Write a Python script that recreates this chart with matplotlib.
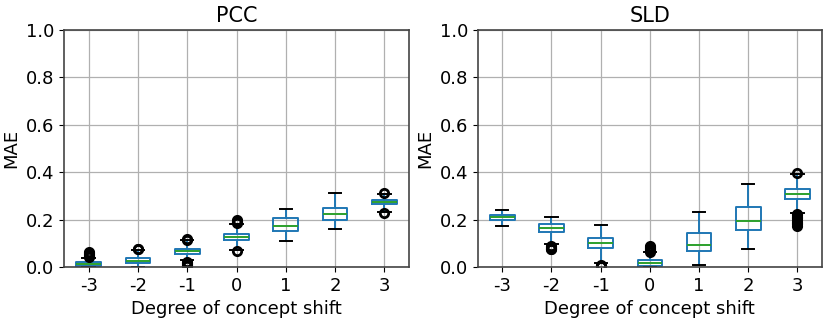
import matplotlib
matplotlib.use("Agg")
import matplotlib.pyplot as plt

shifts = ["-3", "-2", "-1", "0", "1", "2", "3"]

# box statistics: whislo, q1, median, q3, whishi
pcc_stats = [
    [0.000, 0.004, 0.011, 0.020, 0.038],
    [0.000, 0.015, 0.026, 0.037, 0.072],
    [0.028, 0.056, 0.068, 0.077, 0.112],
    [0.072, 0.112, 0.126, 0.141, 0.183],
    [0.111, 0.153, 0.173, 0.205, 0.246],
    [0.159, 0.200, 0.225, 0.249, 0.312],
    [0.231, 0.264, 0.274, 0.282, 0.307],
]
pcc_fliers = [
    [0.042, 0.046, 0.050, 0.055, 0.060, 0.064],
    [0.076, 0.078],
    [0.004, 0.008, 0.013, 0.018, 0.023, 0.116, 0.120],
    [0.066, 0.186, 0.190, 0.194, 0.198],
    [],
    [],
    [0.228, 0.312],
]

sld_stats = [
    [0.171, 0.199, 0.211, 0.221, 0.239],
    [0.099, 0.148, 0.166, 0.183, 0.213],
    [0.017, 0.079, 0.100, 0.122, 0.177],
    [0.000, 0.006, 0.018, 0.031, 0.062],
    [0.008, 0.066, 0.094, 0.143, 0.232],
    [0.076, 0.156, 0.194, 0.252, 0.350],
    [0.226, 0.285, 0.308, 0.331, 0.394],
]
sld_fliers = [
    [],
    [0.074, 0.078, 0.082, 0.086, 0.090],
    [0.003, 0.006, 0.010],
    [0.065, 0.070, 0.075, 0.080, 0.085, 0.090],
    [],
    [],
    [0.398, 0.174, 0.180, 0.186, 0.192, 0.198, 0.205, 0.212, 0.218, 0.222],
]


def make_stats(stats, fliers):
    out = []
    for s, f in zip(stats, fliers):
        out.append(dict(whislo=s[0], q1=s[1], med=s[2], q3=s[3], whishi=s[4],
                        fliers=f, label=""))
    return out


fig = plt.figure(figsize=(8.3, 3.21), dpi=100)
ax1 = fig.add_axes([0.0771, 0.1682, 0.4157, 0.7383])
ax2 = fig.add_axes([0.5755, 0.1682, 0.4149, 0.7383])

for ax, stats, fliers, title in [(ax1, pcc_stats, pcc_fliers, "PCC"),
                                 (ax2, sld_stats, sld_fliers, "SLD")]:
    ax.bxp(make_stats(stats, fliers), positions=range(1, 8), widths=0.5,
           boxprops=dict(color="#1f77b4", linewidth=1.4),
           whiskerprops=dict(color="#1f77b4", linewidth=1.4),
           capprops=dict(color="k", linewidth=1.4),
           medianprops=dict(color="#2ca02c", linewidth=1.4),
           flierprops=dict(marker="o", markerfacecolor="none",
                           markeredgecolor="k", markersize=6,
                           markeredgewidth=2))
    ax.set_xticks(range(1, 8))
    ax.set_xticklabels(shifts)
    ax.set_xlim(0.5, 7.5)
    ax.set_ylim(0, 1.0)
    ax.set_yticks([0, 0.2, 0.4, 0.6, 0.8, 1.0])
    ax.grid(True, color="#b0b0b0", linewidth=0.9)
    ax.set_axisbelow(True)
    for s in ax.spines.values():
        s.set_color("#444444")
        s.set_linewidth(1.2)
    ax.tick_params(labelsize=13)
    ax.set_title(title, fontsize=15)
    ax.set_xlabel("Degree of concept shift", fontsize=13)
    ax.set_ylabel("MAE", fontsize=13)

fig.savefig("out.png", dpi=100)
